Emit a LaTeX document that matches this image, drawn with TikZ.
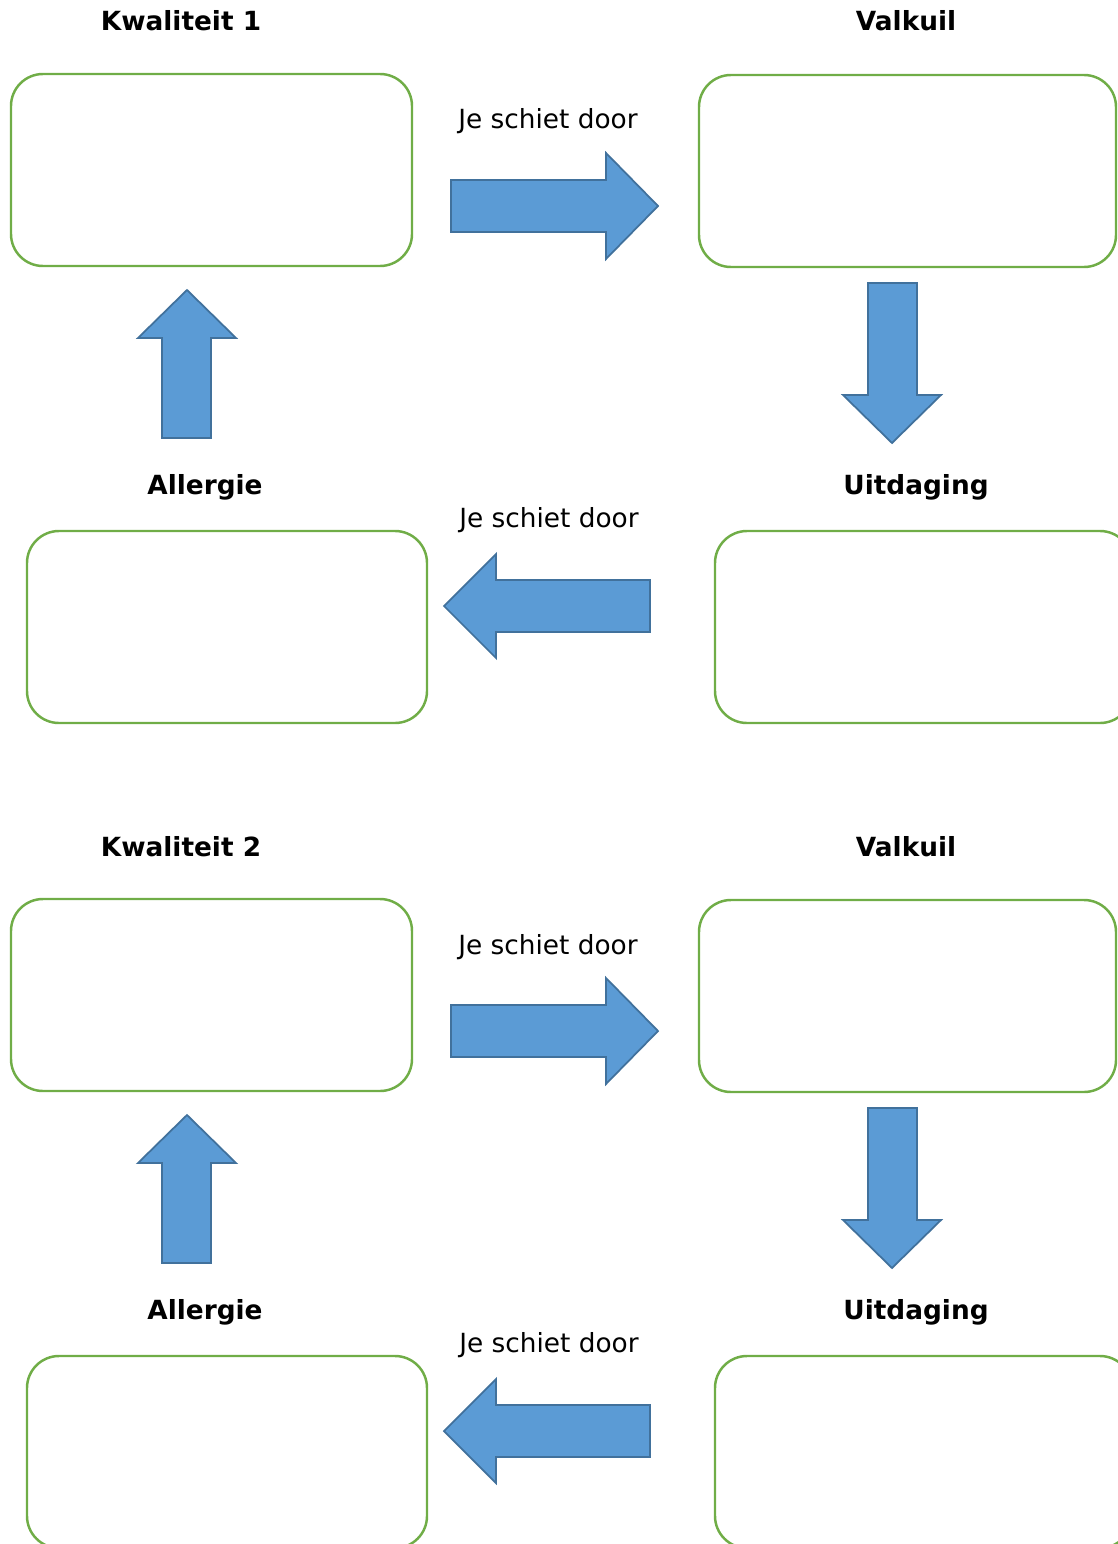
\documentclass[tikz,border=0pt]{standalone}
\usepackage{fontspec}
\setmainfont{DejaVu Sans}
\definecolor{kadergroen}{HTML}{70AD47}
\definecolor{pijlblauw}{HTML}{5B9BD5}
\definecolor{pijlrand}{HTML}{41719C}
\tikzset{
  kader/.style = {draw=kadergroen,line width=1.4pt,rounded corners=0.64cm},
  pijl/.style = {fill=pijlblauw,draw=pijlrand,line width=1pt,line join=miter},
  kop/.style = {anchor=base,font=\fontsize{15}{18}\selectfont\bfseries},
  tekst/.style = {anchor=base,font=\fontsize{15}{18}\selectfont}
}

\begin{document}
\begin{tikzpicture}[x=0.02cm,y=-0.02cm]
  \useasboundingbox (0,0) rectangle (1117,1544);
  \foreach \blok/\dy in {1/0,2/825}{
    \begin{scope}[yshift=-\dy*0.02cm]
      % koppen
      \node[kop] (kwal\blok) at (181,31) {Kwaliteit \blok};
      \node[kop] (valk\blok) at (906,31) {Valkuil};
      \node[kop] (uitd\blok) at (916,494) {Uitdaging};
      \node[kop] (allg\blok) at (205,494) {Allergie};
      % kaders
      \draw[kader] (11,74) rectangle (412,266);
      \draw[kader] (699,75) rectangle (1116,267);
      \draw[kader] (715,531) rectangle (1132,723);
      \draw[kader] (27,531) rectangle (427,723);
      % door te schieten
      \node[tekst] (door\blok a) at (548,129) {Je schiet door};
      \node[tekst] (door\blok b) at (549,527) {Je schiet door};
      % pijlen
      \draw[pijl] (451,180) -- (606,180) -- (606,153) -- (658,206) -- (606,259) -- (606,232) -- (451,232) -- cycle;
      \draw[pijl] (868,283) -- (917,283) -- (917,395) -- (941,395) -- (892,443) -- (843,395) -- (868,395) -- cycle;
      \draw[pijl] (650,580) -- (496,580) -- (496,554) -- (444,606) -- (496,658) -- (496,632) -- (650,632) -- cycle;
      \draw[pijl] (162,438) -- (162,338) -- (138,338) -- (187,290) -- (236,338) -- (211,338) -- (211,438) -- cycle;
    \end{scope}
  }
\end{tikzpicture}
\end{document}
